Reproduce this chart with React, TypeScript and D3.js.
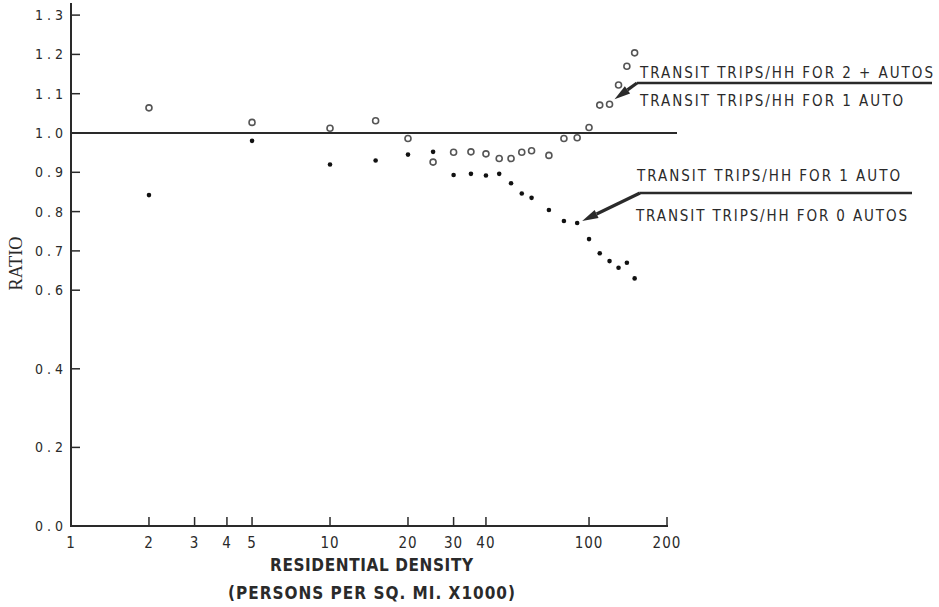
import React from "react";
import * as d3 from "d3";

const densities = [2, 5, 10, 15, 20, 25, 30, 35, 40, 45, 50, 55, 60, 70, 80, 90, 100, 110, 120, 130, 140, 150];
const ratio2plusTo1 = [1.064, 1.027, 1.012, 1.031, 0.986, 0.926, 0.951, 0.952, 0.947, 0.935, 0.935, 0.951, 0.955, 0.943, 0.986, 0.988, 1.014, 1.071, 1.073, 1.122, 1.170, 1.204];
const ratio1To0 = [0.842, 0.980, 0.920, 0.930, 0.945, 0.952, 0.893, 0.896, 0.892, 0.896, 0.872, 0.846, 0.835, 0.804, 0.776, 0.771, 0.730, 0.694, 0.674, 0.657, 0.670, 0.630];
const xTicks = [1, 2, 3, 4, 5, 10, 20, 30, 40, 100, 200];
const xTickLabels = ["1", "2", "3", "4", "5", "10", "20", "30", "40", "100", "200"];
const yTicks = [0, 0.2, 0.4, 0.6, 0.7, 0.8, 0.9, 1.0, 1.1, 1.2, 1.3];
const yTickLabels = ["0.0", "0.2", "0.4", "0.6", "0.7", "0.8", "0.9", "1.0", "1.1", "1.2", "1.3"];
const upperTop = "TRANSIT TRIPS/HH FOR 2 + AUTOS";
const upperBottom = "TRANSIT TRIPS/HH FOR 1 AUTO";
const lowerTop = "TRANSIT TRIPS/HH FOR 1 AUTO";
const lowerBottom = "TRANSIT TRIPS/HH FOR 0 AUTOS";

const W = 939;
const H = 607;
const x = d3.scaleLog().domain([1, 200]).range([71, 667]);
const y = d3.scaleLinear().domain([0, 1.3]).range([526, 526 - 1.3 * 393]);

const sans = "'DejaVu Sans Condensed', 'DejaVu Sans', sans-serif";
const ink = "#2a2a2a";

function Arrow({ x1, y1, x2, y2 }: { x1: number; y1: number; x2: number; y2: number }) {
  const ang = Math.atan2(y2 - y1, x2 - x1);
  const len = 16;
  const half = 4.5;
  const bx = x2 - len * Math.cos(ang);
  const by = y2 - len * Math.sin(ang);
  const px = -Math.sin(ang) * half;
  const py = Math.cos(ang) * half;
  const pts = `${x2},${y2} ${bx + px},${by + py} ${bx - px},${by - py}`;
  return (
    <g>
      <line x1={x1} y1={y1} x2={bx} y2={by} stroke={ink} strokeWidth={3.2} />
      <polygon points={pts} fill={ink} />
    </g>
  );
}

export default function App() {
  const x0 = x(1);
  const y0 = y(0);
  const up = { lx: 637, rx: 932, ly: 83 };
  const lo = { lx: 640, rx: 912, ly: 193 };
  const tipUp = { x: x(120) + 5, y: y(1.073) - 5 };
  const tipLo = { x: x(90) + 5, y: y(0.771) - 2 };
  const annStyle = { fontFamily: sans, fontStretch: "condensed" as const };
  return (
    <svg width={W} height={H} style={{ position: "absolute", left: 0, top: 0, background: "#fff" }}>
      <rect x={0} y={0} width={W} height={H} fill="#fff" />
      <line x1={x0} y1={3} x2={x0} y2={y0 + 1} stroke={ink} strokeWidth={2} />
      <line x1={x0 - 1} y1={y0} x2={x(200) + 1} y2={y0} stroke={ink} strokeWidth={2} />
      {yTicks.map((t, i) => (
        <g key={"yt" + i}>
          {t > 0 && <line x1={x0} x2={x0 + 9} y1={y(t)} y2={y(t)} stroke={ink} strokeWidth={1.5} />}
          <text
            x={35}
            y={y(t) + 5}
            style={annStyle}
            fontSize={14}
            fill={ink}
            textLength={28}
            lengthAdjust="spacing"
          >
            {yTickLabels[i]}
          </text>
        </g>
      ))}
      {xTicks.map((t, i) => (
        <g key={"xt" + i}>
          {t > 1 && <line x1={x(t)} x2={x(t)} y1={y0} y2={y0 - 9} stroke={ink} strokeWidth={1.5} />}
          <text
            x={x(t)}
            y={548}
            textAnchor="middle"
            style={annStyle}
            fontSize={15}
            letterSpacing={1}
            fill={ink}
          >
            {xTickLabels[i]}
          </text>
        </g>
      ))}
      <line x1={x0} x2={677} y1={y(1)} y2={y(1)} stroke={ink} strokeWidth={2} />
      {densities.map((d, i) => (
        <circle key={"o" + i} cx={x(d)} cy={y(ratio2plusTo1[i])} r={3} fill="none" stroke="#555" strokeWidth={1.6} />
      ))}
      {densities.map((d, i) => (
        <circle key={"f" + i} cx={x(d)} cy={y(ratio1To0[i])} r={2.3} fill="#111" />
      ))}
      <text x={640} y={78} style={annStyle} fontSize={15} fill={ink} textLength={293} lengthAdjust="spacing">
        {upperTop}
      </text>
      <line x1={up.lx} x2={up.rx} y1={up.ly} y2={up.ly} stroke={ink} strokeWidth={2.6} />
      <text x={640} y={106} style={annStyle} fontSize={15} fill={ink} textLength={263} lengthAdjust="spacing">
        {upperBottom}
      </text>
      <Arrow x1={up.lx} y1={up.ly} x2={tipUp.x} y2={tipUp.y} />

      <text x={637} y={181} style={annStyle} fontSize={15} fill={ink} textLength={263} lengthAdjust="spacing">
        {lowerTop}
      </text>
      <line x1={lo.lx} x2={lo.rx} y1={lo.ly} y2={lo.ly} stroke={ink} strokeWidth={2.6} />
      <text x={636} y={221} style={annStyle} fontSize={15} fill={ink} textLength={271} lengthAdjust="spacing">
        {lowerBottom}
      </text>
      <Arrow x1={lo.lx} y1={lo.ly} x2={tipLo.x} y2={tipLo.y} />

      <text
        x={371.5}
        y={571}
        textAnchor="middle"
        style={annStyle}
        fontWeight="bold"
        fontSize={17}
        fill={ink}
        textLength={203}
        lengthAdjust="spacing"
      >
        RESIDENTIAL DENSITY
      </text>
      <text
        x={371.5}
        y={599}
        textAnchor="middle"
        style={annStyle}
        fontWeight="bold"
        fontSize={17}
        fill={ink}
        textLength={287}
        lengthAdjust="spacing"
      >
        (PERSONS PER SQ. MI. X1000)
      </text>
      <text
        transform={`translate(22,263.5) rotate(-90)`}
        textAnchor="middle"
        fontFamily="'Liberation Serif', 'DejaVu Serif', serif"
        fontSize={19}
        fill={ink}
        textLength={54}
        lengthAdjust="spacingAndGlyphs"
      >
        RATIO
      </text>
    </svg>
  );
}
